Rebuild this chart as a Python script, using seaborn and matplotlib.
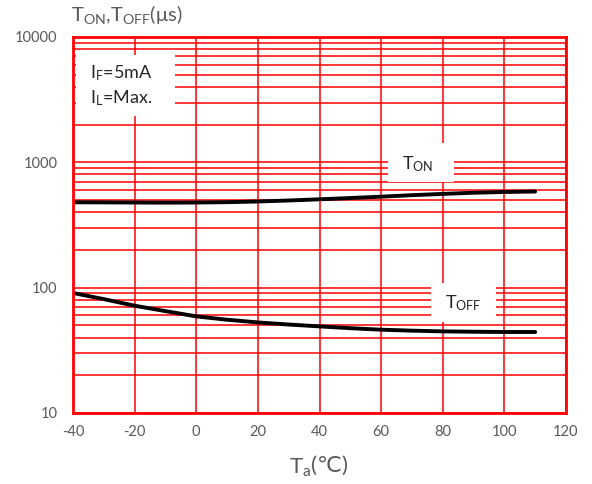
import numpy as np
import pandas as pd
import seaborn as sns
import matplotlib
matplotlib.use("Agg")
from matplotlib import pyplot as plt
from matplotlib.patches import Rectangle
from matplotlib.transforms import offset_copy
from matplotlib.ticker import LogLocator, FixedLocator, FuncFormatter, NullFormatter

# values
temps = [-40, -30, -20, -10, 0, 10, 20, 30, 40, 50, 60, 70, 80, 90, 100, 110]
t_on = [480, 479, 478, 477, 478, 481, 487, 496, 507, 519, 532, 547, 560, 572, 580, 585]
t_off = [90.7, 81, 71.8, 65, 59, 55.5, 52.8, 50.8, 49.1, 47.5, 46.2, 45.4, 44.8, 44.5, 44.3, 44.3]
x_ticks = [-40, -20, 0, 20, 40, 60, 80, 100, 120]
y_ticks = [10, 100, 1000, 10000]

df = pd.DataFrame({"Ta": temps + temps,
                   "t": t_on + t_off,
                   "curve": ["on"] * len(temps) + ["off"] * len(temps)})

sns.set_style("white")
plt.rcParams['font.family'] = ['Lato', 'DejaVu Sans']
plt.rcParams['mathtext.default'] = 'regular'
plt.rcParams['axes.unicode_minus'] = False

gray = "#595959"
fig = plt.figure(figsize=(5.92, 4.84), dpi=100)
ax = fig.add_axes([73 / 592, 1 - 413 / 484, 493 / 592, 376 / 484])

sns.lineplot(data=df, x="Ta", y="t", units="curve", estimator=None,
             color="black", lw=2.8, ax=ax, zorder=4, legend=False)

ax.set_yscale("log")
ax.set_xlim(-40, 120)
ax.set_ylim(10, 10000)
ax.xaxis.set_major_locator(FixedLocator(x_ticks))
ax.yaxis.set_major_locator(FixedLocator(y_ticks))
ax.yaxis.set_minor_locator(LogLocator(base=10, subs=np.arange(2, 10)))
ax.yaxis.set_major_formatter(FuncFormatter(lambda v, p: f"{v:.0f}"))
ax.yaxis.set_minor_formatter(NullFormatter())
ax.tick_params(which="both", length=0, labelsize=10.5, labelcolor=gray)
ax.tick_params(axis="y", pad=11)
ax.tick_params(axis="x", pad=9)

ax.xaxis.grid(True, which="major", color="red", lw=1.1)
ax.yaxis.grid(True, which="both", color="red", lw=1.1)
ax.set_axisbelow(True)
for s in ax.spines.values():
    s.set_color("red")
    s.set_linewidth(2)
    s.set_zorder(5)

ax.set_xlabel("")
ax.set_ylabel("")

# x label in two pieces so the degree sign can fall back to DejaVu
renderer = fig.canvas.get_renderer()
lab1 = fig.text(289 / 592, 1 - 468 / 484, "T$_a$", fontsize=16, color=gray,
                ha="left", va="center")
w1 = lab1.get_window_extent(renderer).width
fig.text(289 / 592, 1 - 466 / 484, "(℃)", fontsize=16, color=gray,
         ha="left", va="center",
         transform=offset_copy(fig.transFigure, fig=fig, x=w1, y=0, units="dots"))

fig.text(71 / 592, 1 - 15 / 484, "T$_{ON}$,T$_{OFF}$(μs)", fontsize=14.5,
         color=gray, ha="left", va="center")

# white label boxes over the grid
boxes = [(0.006, 0.790, 0.201, 0.162),
         (0.639, 0.614, 0.134, 0.104),
         (0.726, 0.242, 0.132, 0.104)]
for x0, y0, w, h in boxes:
    ax.add_patch(Rectangle((x0, y0), w, h, transform=ax.transAxes,
                           facecolor="white", edgecolor="none", zorder=3))

ax.text(0.0345, 0.904, "I$_F$=5mA", transform=ax.transAxes, fontsize=13,
        va="center", ha="left", zorder=6)
ax.text(0.0345, 0.838, "I$_L$=Max.", transform=ax.transAxes, fontsize=13,
        va="center", ha="left", zorder=6)
ax.text(0.667, 0.662, "T$_{ON}$", transform=ax.transAxes, fontsize=13,
        va="center", ha="left", zorder=6)
ax.text(0.755, 0.293, "T$_{OFF}$", transform=ax.transAxes, fontsize=13,
        va="center", ha="left", zorder=6)

fig.savefig("out.png", dpi=100)
